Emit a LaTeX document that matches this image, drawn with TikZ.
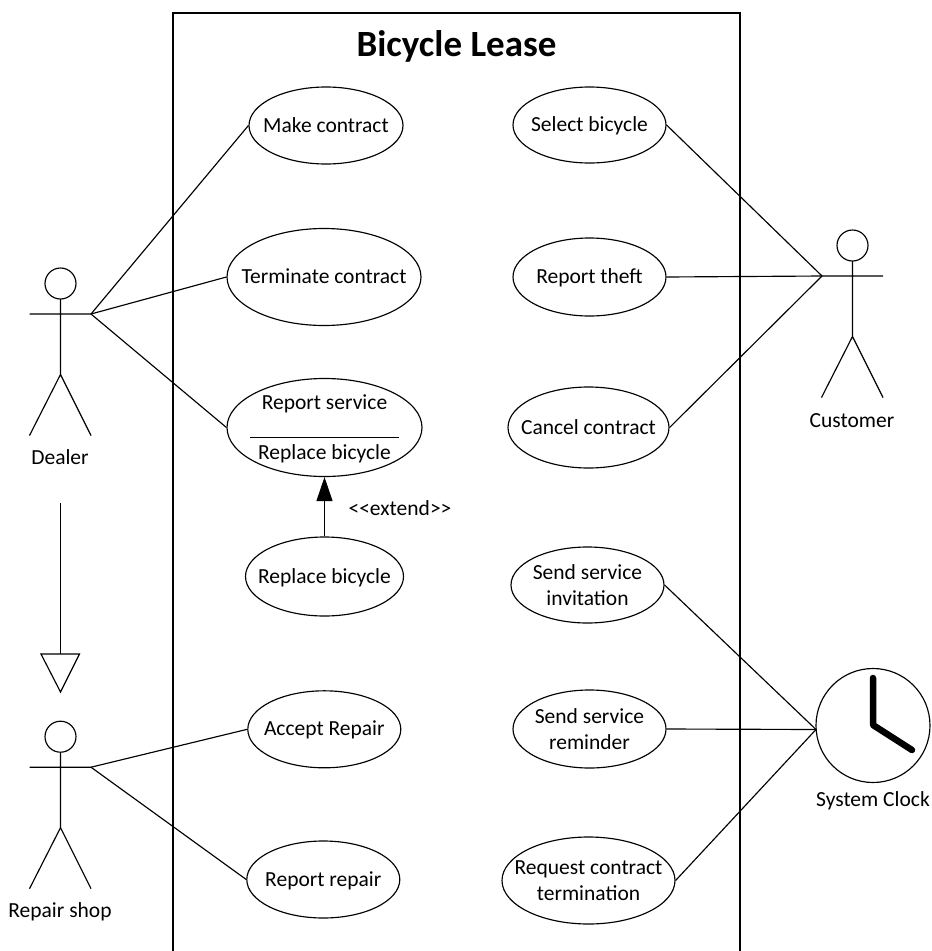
\documentclass[tikz,border=0pt]{standalone}
\usepackage{fontspec}
\setmainfont{Carlito}
\usetikzlibrary{shapes.geometric,arrows.meta}
\tikzset{
  x=1pt,y=-1pt,
  ln/.style={draw=black,line width=1.15pt},
  uc/.style={ln,ellipse,inner xsep=-40pt,inner ysep=-12pt,align=center,font=\fontsize{21.5}{26}\selectfont,fill=white,text height=16pt,text depth=3pt},
  twolines/.style={text height=43pt,text depth=3pt},
  lbl/.style={inner sep=0pt,font=\fontsize{21.5}{26}\selectfont,align=center,text height=16pt,text depth=3pt},
  stick/.pic={
    \draw[ln] (0,0) circle[radius=15.5];
    \draw[ln] (0,15.5) -- (0,91) (-31,30.5) -- (30.5,30.5) (-31,152) -- (0,91) -- (30.5,152);
  }
}
\begin{document}
\begin{tikzpicture}
\useasboundingbox (0,0) rectangle (932,951);
% system boundary
\coordinate (bl) at (173,951); \coordinate (tl) at (173,13);
\coordinate (tr) at (740,13); \coordinate (br) at (740,951);
\draw[line width=1.7pt,line join=miter] (bl) -- (tl) -- (tr) -- (br);
\node[inner sep=0pt,anchor=base,font=\fontsize{37}{44}\selectfont\bfseries] (title) at (456.5,56) {Bicycle Lease};
% actors
\pic at (60.5,283.5) {stick};
\pic at (60.5,736.7) {stick};
\pic at (852.5,245.5) {stick};
\coordinate (dealer) at (91,314);
\coordinate (repair) at (91,767.2);
\coordinate (customer) at (822,276);
\node[lbl] (dealerlabel) at (60,458) {Dealer};
\node[lbl] (repairlabel) at (60,911) {Repair shop};
\node[lbl] (customerlabel) at (852,421) {Customer};
% clock
\node[ln,circle,minimum size=114pt,inner sep=0pt] (clock) at (873,725.5) {};
\coordinate (clockport) at (816,729.5);
\coordinate (hand1) at (873,678);
\coordinate (handc) at (873,725);
\coordinate (hand2) at (912,750);
\draw[line width=6.5pt,line cap=round,line join=round] (hand1) -- (handc) -- (hand2);
\node[lbl] (clocklabel) at (873,799.5) {System Clock};
% use cases
\node[uc,minimum width=154pt,minimum height=77pt] (make) at (326,125.5) {Make contract};
\node[uc,minimum width=194pt,minimum height=97pt] (term) at (324,277) {Terminate contract};
\node[uc,minimum width=195pt,minimum height=98pt] (service) at (324.5,427.5) {};
\node[lbl] (servicetext) at (324.5,402.5) {Report service};
\coordinate (sepl) at (250,437); \coordinate (sepr) at (399,437);
\draw[line width=0.9pt] (sepl) -- (sepr);
\node[lbl] (servicetext2) at (324.5,452.5) {Replace bicycle};
\node[uc,minimum width=158pt,minimum height=79pt] (replace) at (324.5,576.5) {Replace bicycle};
\node[uc,minimum width=153pt,minimum height=77pt] (accept) at (324.3,729.3) {Accept Repair};
\node[uc,minimum width=153pt,minimum height=77pt] (rrepair) at (323.3,879.5) {Report repair};
\node[uc,minimum width=153pt,minimum height=76pt] (select) at (589.5,125) {Select bicycle};
\node[uc,minimum width=153pt,minimum height=78pt] (theft) at (589.5,277) {Report theft};
\node[uc,minimum width=161pt,minimum height=81pt] (cancel) at (588.5,427.5) {Cancel contract};
\node[uc,twolines,minimum width=153pt,minimum height=76pt] (invite) at (587.5,585) {Send service\\invitation};
\node[uc,twolines,minimum width=153pt,minimum height=78pt] (remind) at (589.5,729) {Send service\\reminder};
\node[uc,twolines,minimum width=173pt,minimum height=87pt] (request) at (588.5,880.5) {Request contract\\termination};
% associations
\draw[ln] (dealer) -- (make.west);
\draw[ln] (dealer) -- (term.west);
\draw[ln] (dealer) -- (service.west);
\draw[ln] (repair) -- (accept.west);
\draw[ln] (repair) -- (rrepair.west);
\draw[ln] (select.east) -- (customer);
\draw[ln] (theft.east) -- (customer);
\draw[ln] (cancel.east) -- (customer);
\draw[ln] (invite.east) -- (clockport);
\draw[ln] (remind.east) -- (clockport);
\draw[ln] (request.east) -- (clockport);
% extend
\draw[ln,-{Triangle[length=24pt,width=16pt]}] (replace.north) -- (replace.north |- service.south);
\node[lbl] (extendlabel) at (400,508.5) {<{}<extend>{}>};
% generalisation
\coordinate (genstart) at (60.5,503);
\coordinate (genbase) at (60.5,654);
\draw[ln] (genstart) -- (genbase);
\draw[ln,line join=miter] (41,654) -- (79.5,654) -- (60.5,692) -- cycle;
\end{tikzpicture}
\end{document}
